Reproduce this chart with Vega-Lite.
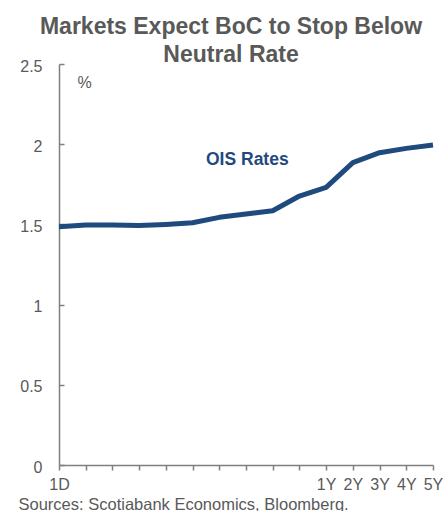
{
  "$schema": "https://vega.github.io/schema/vega-lite/v6.json",
  "width": 374,
  "height": 401,
  "autosize": "none",
  "padding": {"left": 59, "top": 64, "right": 10, "bottom": 46},
  "background": "white",
  "config": {"view": {"stroke": null}, "font": "Liberation Sans"},
  "title": {
    "text": ["Markets Expect BoC to Stop Below", "Neutral Rate"],
    "font": "Liberation Sans",
    "fontSize": 23,
    "fontWeight": "bold",
    "color": "#595959",
    "anchor": "middle",
    "dx": -15,
    "offset": -9,
    "lineHeight": 28.5
  },
  "encoding": {
    "x": {
      "field": "t",
      "type": "quantitative",
      "scale": {"domain": [0, 14], "nice": false, "zero": false},
      "axis": {
        "values": [0,1,2,3,4,5,6,7,8,9,10,11,12,13,14],
        "labelExpr": "['1D','','','','','','','','','','1Y','2Y','3Y','4Y','5Y'][datum.value]",
        "labelOverlap": false,
        "labelBound": false,
        "labelFlush": false,
        "grid": false,
        "domainColor": "#7f7f7f",
        "domainWidth": 1.5,
        "tickColor": "#7f7f7f",
        "tickWidth": 1.5,
        "tickSize": 5,
        "labelPadding": 6,
        "labelFontSize": 16,
        "labelColor": "#595959",
        "labelFont": "Liberation Sans",
        "title": "Sources: Scotiabank Economics, Bloomberg.",
        "titleFont": "Liberation Sans",
        "titleFontSize": 16.5,
        "titleFontWeight": "normal",
        "titleColor": "#595959",
        "titleAlign": "left",
        "titleAnchor": "start",
        "titleBaseline": "alphabetic",
        "titleX": -41,
        "titleY": 44
      }
    },
    "y": {
      "field": "rate",
      "type": "quantitative",
      "scale": {"domain": [0, 2.5], "nice": false},
      "axis": {
        "values": [0, 0.5, 1, 1.5, 2, 2.5],
        "format": "~g",
        "grid": false,
        "domainColor": "#7f7f7f",
        "domainWidth": 1.5,
        "tickColor": "#7f7f7f",
        "tickWidth": 1.5,
        "tickSize": -5,
        "labelPadding": 22,
        "labelOffset": 2,
        "labelFontSize": 16,
        "labelColor": "#595959",
        "labelFont": "Liberation Sans",
        "title": "%",
        "titleFont": "Liberation Sans",
        "titleFontSize": 16,
        "titleFontWeight": "normal",
        "titleColor": "#595959",
        "titleAngle": 0,
        "titleAlign": "center",
        "titleBaseline": "alphabetic",
        "titleX": 25,
        "titleY": 23
      }
    }
  },
  "layer": [
    {
      "data": {
        "values": [
          {"t": 0, "rate": 1.486},
          {"t": 1, "rate": 1.496},
          {"t": 2, "rate": 1.496},
          {"t": 3, "rate": 1.493},
          {"t": 4, "rate": 1.5},
          {"t": 5, "rate": 1.51},
          {"t": 6, "rate": 1.544},
          {"t": 7, "rate": 1.565},
          {"t": 8, "rate": 1.585},
          {"t": 9, "rate": 1.677},
          {"t": 10, "rate": 1.731},
          {"t": 11, "rate": 1.885},
          {"t": 12, "rate": 1.947},
          {"t": 13, "rate": 1.974},
          {"t": 14, "rate": 1.995}
        ]
      },
      "mark": {"type": "line", "color": "#1f4a7e", "strokeWidth": 5, "strokeJoin": "round", "strokeCap": "butt"}
    },
    {
      "data": {"values": [{"t": 7.05, "rate": 1.9, "label": "OIS Rates"}]},
      "mark": {"type": "text", "font": "Liberation Sans", "fontSize": 17.5, "fontWeight": "bold", "color": "#1f4a7e", "align": "center", "baseline": "middle"},
      "encoding": {
        "text": {"field": "label"}
      }
    }
  ]
}
